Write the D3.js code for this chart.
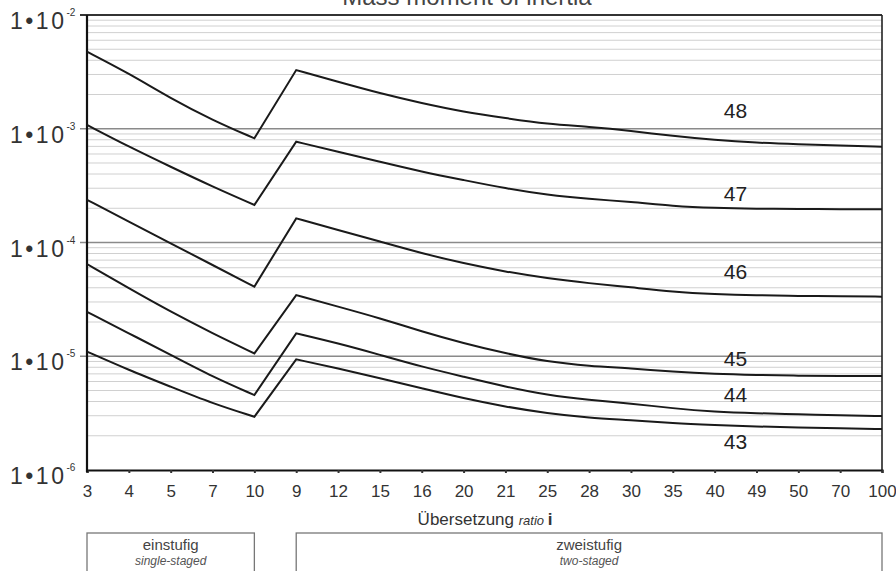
<!DOCTYPE html>
<html>
<head>
<meta charset="utf-8">
<script src="https://cdn.jsdelivr.net/npm/d3@7"></script>
<style>
  body { margin: 0; background: #fff; }
  svg { display: block; font-family: "Liberation Sans", Arial, sans-serif; }
</style>
</head>
<body>
<script>
// x categories (single-staged first, then two-staged)
var ratios = ["3","4","5","7","10","9","12","15","16","20","21","25","28","30","35","40","49","50","70","100"];
var ratiosOne = ratios.slice(0, 5);
var ratiosTwo = ratios.slice(5);

var sizes = ["48","47","46","45","44","43"];

// single-staged values (3..10)
var one48 = [4.76e-3, 3.07e-3, 1.85e-3, 1.19e-3, 8.24e-4];
var one47 = [1.08e-3, 6.95e-4, 4.63e-4, 3.10e-4, 2.14e-4];
var one46 = [2.37e-4, 1.53e-4, 9.84e-5, 6.34e-5, 4.09e-5];
var one45 = [6.47e-5, 3.95e-5, 2.46e-5, 1.59e-5, 1.06e-5];
var one44 = [2.46e-5, 1.59e-5, 1.03e-5, 6.61e-6, 4.56e-6];
var one43 = [1.10e-5, 7.57e-6, 5.40e-6, 3.85e-6, 2.94e-6];

// two-staged values (9..100)
var two48 = [3.28e-3, 2.59e-3, 2.05e-3, 1.68e-3, 1.41e-3, 1.24e-3, 1.10e-3, 1.04e-3, 9.6e-4, 8.63e-4, 7.96e-4, 7.54e-4, 7.30e-4, 7.10e-4, 6.95e-4];
var two47 = [7.69e-4, 6.28e-4, 5.13e-4, 4.19e-4, 3.54e-4, 2.99e-4, 2.62e-4, 2.41e-4, 2.28e-4, 2.09e-4, 2.01e-4, 1.98e-4, 1.97e-4, 1.96e-4, 1.96e-4];
var two46 = [1.63e-4, 1.29e-4, 1.02e-4, 8.04e-5, 6.56e-5, 5.54e-5, 4.84e-5, 4.38e-5, 4.04e-5, 3.69e-5, 3.52e-5, 3.43e-5, 3.39e-5, 3.37e-5, 3.34e-5];
var two45 = [3.45e-5, 2.73e-5, 2.16e-5, 1.65e-5, 1.30e-5, 1.06e-5, 8.96e-6, 8.21e-6, 7.83e-6, 7.31e-6, 6.98e-6, 6.84e-6, 6.74e-6, 6.70e-6, 6.70e-6];
var two44 = [1.59e-5, 1.30e-5, 1.03e-5, 8.09e-6, 6.61e-6, 5.40e-6, 4.56e-6, 4.12e-6, 3.85e-6, 3.48e-6, 3.25e-6, 3.15e-6, 3.09e-6, 3.03e-6, 2.98e-6];
var two43 = [9.39e-6, 7.83e-6, 6.40e-6, 5.23e-6, 4.27e-6, 3.60e-6, 3.15e-6, 2.88e-6, 2.75e-6, 2.58e-6, 2.49e-6, 2.41e-6, 2.36e-6, 2.33e-6, 2.29e-6];

var decades = [-6, -5, -4, -3, -2];

var seriesOne = [one48, one47, one46, one45, one44, one43];
var seriesTwo = [two48, two47, two46, two45, two44, two43];

var width = 896, height = 571;
var margin = {left: 87, right: 14, top: 15, bottom: 101};

var svg = d3.select('body').append('svg')
  .attr('width', width)
  .attr('height', height);

var x = d3.scalePoint()
  .domain(ratios)
  .range([margin.left, width - margin.right]);

var y = d3.scaleLog()
  .domain([1e-6, 1e-2])
  .range([height - margin.bottom, margin.top]);

var x0 = x.range()[0], x1 = x.range()[1];
var yTop = y.range()[1], yBot = y.range()[0];

// title (cut off at the top, as in the source)
svg.append('text')
  .attr('x', 467).attr('y', 5)
  .attr('text-anchor', 'middle')
  .attr('font-size', 24)
  .attr('fill', '#444')
  .text('Mass moment of inertia');

// gridlines
var minor = [];
decades.slice(0, 4).forEach(function(e) {
  for (var k = 2; k <= 9; k++) minor.push(k * Math.pow(10, e));
});
svg.append('g')
  .selectAll('line').data(minor).enter().append('line')
  .attr('x1', x0).attr('x2', x1)
  .attr('y1', function(d) { return y(d); })
  .attr('y2', function(d) { return y(d); })
  .attr('stroke', '#d0d0d0').attr('stroke-width', 1);

svg.append('g')
  .selectAll('line').data([1e-5, 1e-4, 1e-3]).enter().append('line')
  .attr('x1', x0 - 7).attr('x2', x1)
  .attr('y1', function(d) { return y(d); })
  .attr('y2', function(d) { return y(d); })
  .attr('stroke', '#8a8a8a').attr('stroke-width', 1.6);

// frame
svg.append('line').attr('x1', x0 - 7).attr('x2', x1).attr('y1', yTop).attr('y2', yTop)
  .attr('stroke', '#333').attr('stroke-width', 2);
svg.append('line').attr('x1', x1).attr('x2', x1).attr('y1', yTop).attr('y2', yBot)
  .attr('stroke', '#222').attr('stroke-width', 1.6);

// x axis
var xAxis = svg.append('g')
  .attr('transform', 'translate(0,' + yBot + ')')
  .call(d3.axisBottom(x).tickSize(3).tickPadding(12));
xAxis.select('.domain').attr('stroke', '#111').attr('stroke-width', 2.2);
xAxis.selectAll('.tick line').attr('stroke', '#333').attr('stroke-width', 2);
xAxis.selectAll('.tick text')
  .attr('font-size', 17)
  .attr('fill', '#333')
  .attr('font-family', '"Liberation Sans", Arial, sans-serif');

// y axis line
svg.append('line').attr('x1', x0).attr('x2', x0).attr('y1', yTop).attr('y2', yBot + 2)
  .attr('stroke', '#111').attr('stroke-width', 2.2);

// decade labels
var yl = svg.append('g').selectAll('text').data(decades).enter().append('text')
  .attr('x', 10)
  .attr('y', function(d) { return y(Math.pow(10, d)) + 14; })
  .attr('font-size', 23)
  .attr('fill', '#333')
  .attr('letter-spacing', 2.5);
yl.append('tspan').text('1•10');
yl.append('tspan')
  .attr('font-size', 10)
  .attr('dy', -13)
  .attr('letter-spacing', 0)
  .text(function(d) { return d; });

// curves: smooth within each stage, straight jump from 10 to 9
var line = d3.line()
  .x(function(d) { return x(d[0]); })
  .y(function(d) { return y(d[1]); })
  .curve(d3.curveBasis);

sizes.forEach(function(s, i) {
  var a = ratiosOne.map(function(r, j) { return [r, seriesOne[i][j]]; });
  var b = ratiosTwo.map(function(r, j) { return [r, seriesTwo[i][j]]; });
  svg.append('path')
    .attr('d', line(a) + line(b).replace(/^M/, 'L'))
    .attr('fill', 'none')
    .attr('stroke', '#1a1a1a')
    .attr('stroke-width', 2)
    .attr('stroke-linejoin', 'miter');
});

// size labels next to the curves
var labelDy = [-22, -7, -15, -8, -10, 24];
var labelX = (x('40') + x('49')) / 2;
sizes.forEach(function(s, i) {
  var v = seriesTwo[i][10];
  svg.append('text')
    .attr('x', labelX)
    .attr('y', y(v) + labelDy[i])
    .attr('text-anchor', 'middle')
    .attr('font-size', 21)
    .attr('fill', '#222')
    .text(s);
});

// x axis title
var xt = svg.append('text')
  .attr('x', 485).attr('y', 525)
  .attr('text-anchor', 'middle')
  .attr('fill', '#333')
  .attr('font-size', 17);
xt.append('tspan').text('Übersetzung ');
xt.append('tspan').attr('font-style', 'italic').attr('font-size', 13).text('ratio ');
xt.append('tspan').attr('font-weight', 'bold').text('i');

// stage boxes
var stages = [
  {de: 'einstufig', en: 'single-staged', from: ratiosOne[0], to: ratiosOne[ratiosOne.length - 1]},
  {de: 'zweistufig', en: 'two-staged', from: ratiosTwo[0], to: ratiosTwo[ratiosTwo.length - 1]}
];
stages.forEach(function(st) {
  var bx0 = x(st.from), bx1 = x(st.to);
  svg.append('rect')
    .attr('x', bx0).attr('y', 533)
    .attr('width', bx1 - bx0).attr('height', 60)
    .attr('fill', 'none').attr('stroke', '#777').attr('stroke-width', 1.3);
  svg.append('text')
    .attr('x', (bx0 + bx1) / 2).attr('y', 550)
    .attr('text-anchor', 'middle').attr('font-size', 15).attr('fill', '#444')
    .text(st.de);
  svg.append('text')
    .attr('x', (bx0 + bx1) / 2).attr('y', 565)
    .attr('text-anchor', 'middle').attr('font-size', 12)
    .attr('font-style', 'italic').attr('fill', '#555')
    .text(st.en);
});
</script>
</body>
</html>
